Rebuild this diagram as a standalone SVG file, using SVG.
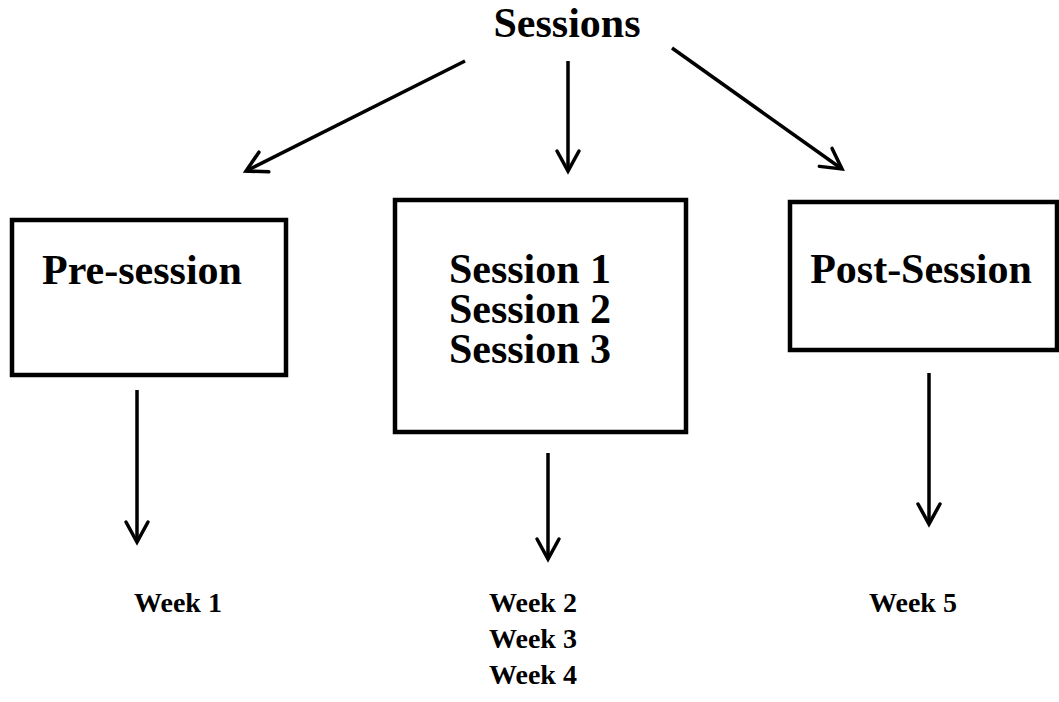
<svg xmlns="http://www.w3.org/2000/svg" width="1059" height="702" viewBox="0 0 1059 702">
<style>
  .box { fill: #ffffff; stroke: #000000; stroke-width: 4.5; }
  .big { font-family: "Liberation Serif", "Times New Roman", serif; font-weight: bold; font-size: 42px; fill: #000; text-anchor: middle; }
  .small { font-family: "Liberation Serif", "Times New Roman", serif; font-weight: bold; font-size: 28px; fill: #000; text-anchor: middle; }
  .conn { stroke: #000; stroke-width: 3.5; fill: none; marker-end: url(#arrow); }
</style>
<defs>
  <marker id="arrow" markerUnits="userSpaceOnUse" viewBox="-24 -14 28 28" refX="0" refY="0" markerWidth="28" markerHeight="28" orient="auto">
    <path d="M -20 -11 L 0 0 L -20 11" fill="none" stroke="#000" stroke-width="3.5" stroke-linecap="round" stroke-linejoin="miter"/>
  </marker>
</defs>
<rect width="1059" height="702" fill="#ffffff"/>
<g id="title">
  <text class="big" x="567" y="37">Sessions</text>
</g>
<g id="pre-session">
  <rect class="box" x="12" y="220" width="274" height="155"/>
  <text class="big" x="142" y="284">Pre-session</text>
</g>
<g id="sessions">
  <rect class="box" x="395" y="200" width="291" height="232"/>
  <text class="big" x="530" y="283">Session 1</text>
  <text class="big" x="530" y="323">Session 2</text>
  <text class="big" x="530" y="363">Session 3</text>
</g>
<g id="post-session">
  <rect class="box" x="790" y="202" width="267" height="148"/>
  <text class="big" x="921" y="283">Post-Session</text>
</g>
<g id="week1">
  <text class="small" x="178" y="612">Week 1</text>
</g>
<g id="weeks234">
  <text class="small" x="533" y="612">Week 2</text>
  <text class="small" x="533" y="648">Week 3</text>
  <text class="small" x="533" y="684">Week 4</text>
</g>
<g id="week5">
  <text class="small" x="913" y="612">Week 5</text>
</g>
<g id="connectors">
  <line class="conn" x1="465" y1="61" x2="246" y2="171"/>
  <line class="conn" x1="568" y1="61" x2="568" y2="171"/>
  <line class="conn" x1="672" y1="48" x2="842" y2="169"/>
  <line class="conn" x1="137" y1="390" x2="137" y2="542"/>
  <line class="conn" x1="548" y1="453" x2="548" y2="559"/>
  <line class="conn" x1="929" y1="373" x2="929" y2="524"/>
</g>
</svg>
